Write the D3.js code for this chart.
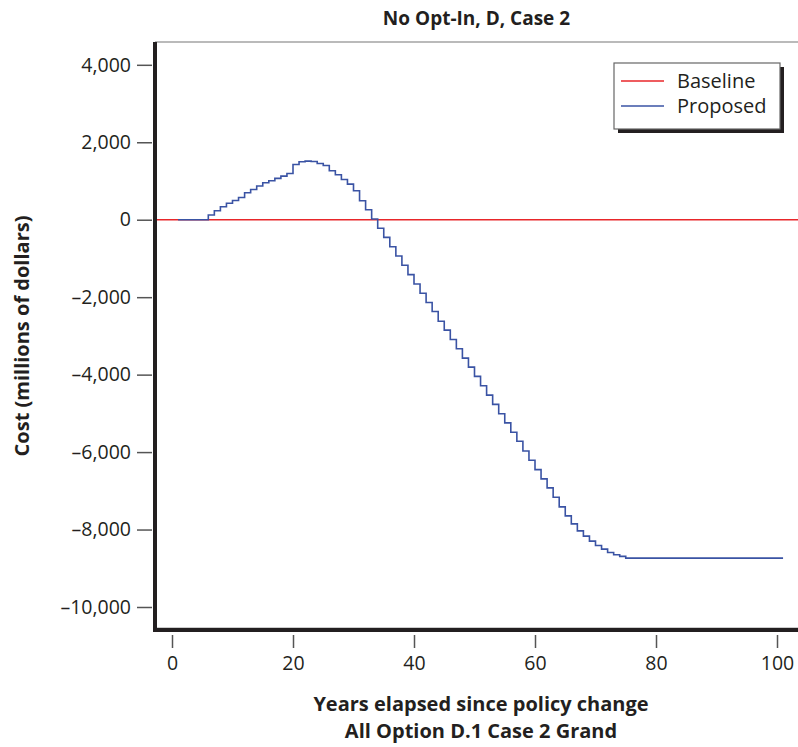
<!DOCTYPE html>
<html>
<head>
<meta charset="utf-8">
<script src="https://cdn.jsdelivr.net/npm/d3@7"></script>
<style>
  html, body { margin: 0; padding: 0; background: #fff; }
  svg { display: block; font-family: "Open Sans", "Noto Sans", sans-serif; }
</style>
</head>
<body>
<svg id="chart" width="798" height="747"></svg>
<script>
// ---- data ----
const chartTitle = "No Opt-In, D, Case 2";
const xTitle1 = "Years elapsed since policy change";
const xTitle2 = "All Option D.1 Case 2 Grand";
const yTitle = "Cost (millions of dollars)";
const seriesNames = ["Baseline", "Proposed"];
const seriesColors = ["#e8262a", "#3a53a4"];
const xTicks = [0, 20, 40, 60, 80, 100];
const yTicks = [4000, 2000, 0, -2000, -4000, -6000, -8000, -10000];
const years = d3.range(1, 102); // years 1..101
const baselineValues = years.map(() => 0);
const proposedValues = [
  0, 0, 0, 0, 0,                                                   // 1-5
  121, 232, 335, 425, 495, 575, 696, 782, 870, 954,                // 6-15
  1005, 1068, 1126, 1194, 1424, 1498, 1512, 1503, 1452, 1400,      // 16-25
  1263, 1160, 1039, 920, 747, 490, 258, 18, -220, -456,            // 26-35
  -696, -936, -1177, -1418, -1658, -1899, -2139, -2371, -2620, -2852,   // 36-45
  -3093, -3333, -3574, -3806, -4046, -4287, -4528, -4768, -5009, -5245, // 46-55
  -5486, -5722, -5971, -6211, -6452, -6693, -6925, -7165, -7415, -7647, // 56-65
  -7853, -8034, -8170, -8299, -8411, -8505, -8591, -8652, -8694, -8737, // 66-75
  -8737, -8737, -8737, -8737, -8737, -8737, -8737, -8737, -8737, -8737, // 76-85
  -8737, -8737, -8737, -8737, -8737, -8737, -8737, -8737, -8737, -8737, // 86-95
  -8737, -8737, -8737, -8737, -8737, -8737                              // 96-101
];

// ---- layout ----
const svg = d3.select("#chart");
const L = 155, R = 798, T = 42, B = 630;
const x = d3.scaleLinear().domain([-2.81, 103.47]).range([L, R]);
const y = d3.scaleLinear().domain([-10594, 4589]).range([B, T]);
const fmt = v => (v < 0 ? "\u2013" : "") + d3.format(",")(Math.abs(v));

const axisColor = "#231f20";
const tickColor = "#555";

// clip
svg.append("defs").append("clipPath").attr("id", "clip")
  .append("rect").attr("x", L).attr("y", T).attr("width", R - L).attr("height", B - T);

// top thin frame line
svg.append("line").attr("x1", L).attr("x2", R).attr("y1", T).attr("y2", T)
  .attr("stroke", "#777").attr("stroke-width", 1.2);

// lines
const lineGen = d3.line().curve(d3.curveStepAfter)
  .x(d => x(d[0])).y(d => y(d[1]));
const plot = svg.append("g").attr("clip-path", "url(#clip)");
plot.append("line")
  .attr("x1", L).attr("x2", R).attr("y1", y(baselineValues[0])).attr("y2", y(baselineValues[0]))
  .attr("stroke", seriesColors[0]).attr("stroke-width", 1.5);
plot.append("path")
  .datum(years.map((yr, i) => [yr, proposedValues[i]]))
  .attr("d", lineGen)
  .attr("fill", "none").attr("stroke", seriesColors[1]).attr("stroke-width", 1.6);

// y axis
const yAxis = d3.axisLeft(y).tickValues(yTicks).tickFormat(fmt).tickSize(15).tickPadding(6);
const gy = svg.append("g").attr("transform", `translate(${L - 3},0)`).call(yAxis);
gy.select(".domain").remove();
gy.selectAll(".tick line").attr("stroke", tickColor).attr("stroke-width", 1.5);
gy.selectAll(".tick text").attr("font-size", 19.5).attr("fill", axisColor)
  .attr("font-family", "'Open Sans', sans-serif");

// x axis
const xAxis = d3.axisBottom(x).tickValues(xTicks).tickFormat(d3.format("d")).tickSize(13).tickPadding(8);
const gx = svg.append("g").attr("transform", `translate(0,${B + 5})`).call(xAxis);
gx.select(".domain").remove();
gx.selectAll(".tick line").attr("stroke", tickColor).attr("stroke-width", 1.5);
gx.selectAll(".tick text").attr("font-size", 19.5).attr("fill", axisColor)
  .attr("font-family", "'Open Sans', sans-serif");

// thick frame left & bottom
svg.append("line").attr("x1", L).attr("x2", R).attr("y1", B - 2).attr("y2", B - 2)
  .attr("stroke", "#999").attr("stroke-width", 1);
svg.append("line").attr("x1", L).attr("x2", L).attr("y1", T).attr("y2", B + 2)
  .attr("stroke", axisColor).attr("stroke-width", 4);
svg.append("line").attr("x1", L - 2).attr("x2", R).attr("y1", B).attr("y2", B)
  .attr("stroke", axisColor).attr("stroke-width", 4);

// titles
svg.append("text").attr("x", (L + R) / 2).attr("y", 25).attr("text-anchor", "middle")
  .attr("font-size", 19).attr("font-weight", "bold").attr("fill", axisColor).text(chartTitle);
svg.append("text").attr("x", 481).attr("y", 711).attr("text-anchor", "middle")
  .attr("font-size", 20).attr("font-weight", "bold").attr("fill", axisColor).text(xTitle1);
svg.append("text").attr("x", 481).attr("y", 738).attr("text-anchor", "middle")
  .attr("font-size", 20).attr("font-weight", "bold").attr("fill", axisColor).text(xTitle2);
svg.append("text").attr("transform", "translate(29,336) rotate(-90)").attr("text-anchor", "middle")
  .attr("font-size", 20).attr("font-weight", "bold").attr("fill", axisColor).text(yTitle);

// legend
const lg = svg.append("g").attr("transform", "translate(614,63)");
lg.append("rect").attr("x", 4).attr("y", 4).attr("width", 166).attr("height", 66).attr("fill", axisColor);
lg.append("rect").attr("x", 0).attr("y", 0).attr("width", 166).attr("height", 66)
  .attr("fill", "#fff").attr("stroke", "#666").attr("stroke-width", 1.2);
seriesNames.forEach((name, i) => {
  const cy = 18 + i * 25;
  lg.append("line").attr("x1", 7).attr("x2", 50).attr("y1", cy).attr("y2", cy)
    .attr("stroke", seriesColors[i]).attr("stroke-width", 1.5);
  lg.append("text").attr("x", 63).attr("y", cy).attr("dy", "0.35em")
    .attr("font-size", 20).attr("fill", axisColor).text(name);
});
</script>
</body>
</html>
